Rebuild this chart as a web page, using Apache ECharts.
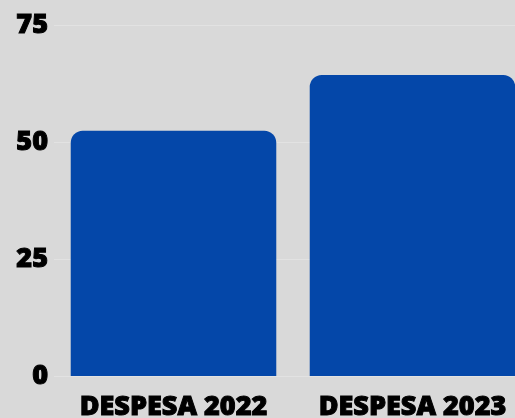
<!DOCTYPE html>
<html><head><meta charset="utf-8">
<script src="https://cdn.jsdelivr.net/npm/echarts@6/dist/echarts.min.js"></script>
<style>html,body{margin:0;padding:0;background:#d9d9d9;}#c{width:515px;height:418px;}</style>
</head><body><div id="c"></div>
<script>
const categories = ['DESPESA 2022', 'DESPESA 2023'];
const values = [52.4, 64.3];
const yTicks = [0, 25, 50, 75];

const chart = echarts.init(document.getElementById('c'));
chart.setOption({
  backgroundColor: '#d9d9d9',
  animation: false,
  grid: { left: 54, right: -17, top: 25, bottom: 42, containLabel: false, outerBoundsMode: 'none' },
  xAxis: {
    type: 'category', data: categories,
    axisLine: { show: false }, axisTick: { show: false },
    axisLabel: { interval: 0, hideOverlap: false, color: '#000', fontFamily: 'Open Sans', fontWeight: 800, fontSize: 27, margin: 18,
      textBorderColor: '#000', textBorderWidth: 1 }
  },
  yAxis: {
    type: 'value', min: yTicks[0], max: yTicks[yTicks.length - 1], interval: 25,
    axisLine: { show: false }, axisTick: { show: false },
    splitLine: { lineStyle: { color: '#e2e2e2', width: 1 } },
    axisLabel: { color: '#000', fontFamily: 'Open Sans', fontWeight: 800, fontSize: 27, margin: 6,
      textBorderColor: '#000', textBorderWidth: 1 }
  },
  series: [{
    type: 'bar', data: values, barCategoryGap: '14%',
    itemStyle: { color: '#0447a9', borderRadius: [12, 12, 0, 0] }
  }]
});
</script></body></html>
